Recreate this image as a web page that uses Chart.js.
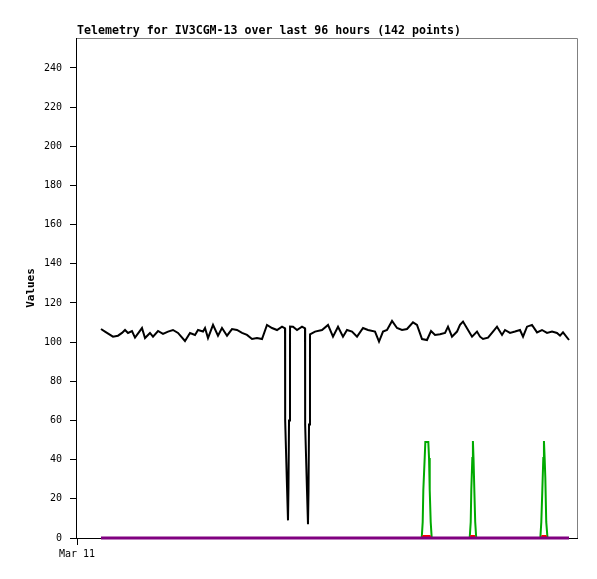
<!DOCTYPE html>
<html>
<head>
<meta charset="utf-8">
<script src="https://cdn.jsdelivr.net/npm/chart.js@4"></script>
<style>
  html, body { margin: 0; padding: 0; background: #fff; }
</style>
</head>
<body>
<canvas id="myChart" width="597" height="579"></canvas>
<script>
// hours since Mar 11 00:00
const chartTitle = 'Telemetry for IV3CGM-13 over last 96 hours (142 points)';
const axisEnd = 102.56;
const dayLabel = 'Mar 11';

// channel 1 (black)
const ch1Hours = [4.92, 5.74, 7.38, 8.41, 9.23, 9.85, 10.46, 11.28, 11.90, 13.33, 13.95, 14.97, 15.59,
  16.62, 17.64, 18.67, 19.69, 20.72, 22.15, 23.18, 24.21, 24.82, 25.85, 26.26, 26.87, 27.90, 28.92,
  29.74, 30.77, 31.79, 32.82, 33.85, 34.87, 35.90, 36.92, 37.95, 38.97, 40.00, 41.03, 42.05,
  42.67, 42.68, 42.72, 43.08, 43.28, 43.38, 43.49, 43.69, 43.70,
  44.31, 45.13, 46.15,
  46.77, 46.78, 46.82, 47.18, 47.38, 47.49, 47.59, 47.79, 47.80,
  48.82, 50.26, 51.49, 52.51, 53.54, 54.56, 55.38, 56.41, 57.44, 58.67, 59.69, 61.13, 61.95, 62.77,
  63.59, 64.62, 65.64, 66.67, 67.69, 68.92, 69.74, 70.77, 71.79, 72.62, 73.44, 74.46, 75.49, 76.10,
  76.92, 77.95, 78.56, 79.18, 80.21, 81.03, 82.05, 82.67, 83.28, 84.31, 85.33, 86.15, 87.18, 87.79,
  88.82, 89.85, 90.87, 91.49, 92.31, 93.33, 94.36, 95.38, 96.41, 97.44, 98.46, 99.08, 99.69, 100.92];
const ch1Values = [106.7, 105.4, 102.8, 103.3, 104.7, 106.2, 104.7, 105.7, 102.3, 107.2, 102.1, 104.7, 102.8,
  105.7, 104.2, 105.4, 106.2, 104.7, 100.6, 104.7, 103.7, 106.2, 105.4, 107.2, 102.1, 108.8, 103.3,
  107.2, 103.3, 106.7, 106.2, 104.7, 103.7, 101.6, 102.1, 101.6, 108.8, 107.2, 106.2, 107.9,
  107, 92, 60, 26, 9, 26, 60, 92, 108,
  107.9, 106.2, 107.9,
  107, 92, 58, 24, 7, 24, 58, 92, 104,
  105.4, 106.2, 108.8, 102.8, 107.9, 102.8, 106.2, 105.4, 102.8, 107.2, 106.2, 105.4, 100.3, 105.4,
  106.2, 110.8, 107.2, 106.2, 106.7, 110.1, 108.8, 101.6, 101.1, 105.7, 103.7, 104.0, 104.7, 107.9,
  102.8, 105.4, 108.8, 110.5, 106.2, 102.8, 105.4, 102.8, 101.6, 102.3, 105.4, 107.9, 103.7, 106.2,
  104.7, 105.4, 106.2, 102.8, 107.9, 108.8, 105.0, 106.2, 104.7, 105.4, 104.7, 103.3, 105.0, 101.1];

// channel 2 (green)
const ch2Hours = [4.92,
  70.71, 70.91, 71.04, 71.32, 71.45, 72.06, 72.21, 72.35, 72.55, 72.76,
  80.55, 80.76, 80.88, 81.09, 81.21, 81.33, 81.50, 81.68, 81.89,
  95.04, 95.24, 95.45, 95.65, 95.78, 95.92, 96.06, 96.25, 96.51,
  100.92];
const ch2Values = [0,
  0, 8.2, 24.5, 40.9, 49, 49, 40.9, 24.5, 8.2, 0,
  0, 8.2, 24.5, 40.9, 49.5, 40.9, 24.5, 8.2, 0,
  0, 8.2, 24.5, 40.9, 49.5, 40.9, 31, 8.2, 0,
  0];

// channel 3 (red)
const ch3Hours = [4.92, 70.91, 71.04, 72.35, 72.47, 80.82, 80.88, 81.44, 81.50, 95.33, 95.45, 96.15, 96.27, 100.92];
const ch3Values = [0, 0, 1, 1, 0, 0, 1, 1, 0, 0, 1, 1, 0, 0];

// channel 4 (purple)
const ch4Hours = [4.92, 100.92];
const ch4Values = [0, 0];

const MONO = '"DejaVu Sans Mono", monospace';

function pts(hours, values) {
  return hours.map((h, i) => ({ x: h, y: values[i] }));
}

const titlePlugin = {
  id: 'plotTitle',
  afterDraw(chart) {
    const { ctx, chartArea } = chart;
    ctx.save();
    ctx.font = 'bold 11.6px ' + MONO;
    ctx.fillStyle = '#000';
    ctx.textBaseline = 'middle';
    ctx.fillText(chartTitle, chartArea.left, 31);
    ctx.restore();
  }
};

// plot box: grey top/right, black left/bottom axes
const framePlugin = {
  id: 'frame',
  beforeDatasetsDraw(chart) {
    const { ctx, chartArea: a } = chart;
    ctx.save();
    ctx.lineWidth = 1;
    ctx.strokeStyle = '#808080';
    ctx.beginPath();
    ctx.moveTo(a.left, a.top + 0.5);
    ctx.lineTo(a.right + 0.5, a.top + 0.5);
    ctx.lineTo(a.right + 0.5, a.bottom);
    ctx.stroke();
    ctx.strokeStyle = '#000';
    ctx.beginPath();
    ctx.moveTo(a.left - 0.5, a.top);
    ctx.lineTo(a.left - 0.5, a.bottom + 0.5);
    ctx.lineTo(a.right + 1, a.bottom + 0.5);
    ctx.stroke();
    ctx.restore();
  }
};

const line = (data, color, width, order) => ({
  data: data,
  borderColor: color,
  borderWidth: width,
  pointRadius: 0,
  tension: 0,
  fill: false,
  clip: 4,
  order: order
});

const ctx = document.getElementById('myChart').getContext('2d');
new Chart(ctx, {
  type: 'line',
  data: {
    datasets: [
      line(pts(ch4Hours, ch4Values), '#800080', 3, 0),
      line(pts(ch3Hours, ch3Values), '#ff0000', 2, 1),
      line(pts(ch2Hours, ch2Values), '#00aa00', 2, 2),
      line(pts(ch1Hours, ch1Values), '#000000', 2, 3)
    ]
  },
  options: {
    responsive: false,
    animation: false,
    layout: { padding: { top: 38, right: 20, bottom: 0, left: 0 } },
    plugins: {
      legend: { display: false },
      tooltip: { enabled: false },
      title: { display: false }
    },
    scales: {
      x: {
        type: 'linear',
        min: 0,
        max: axisEnd,
        afterBuildTicks: s => { s.ticks = [{ value: 0 }]; },
        afterFit: s => { s.height = 41; },
        ticks: {
          callback: () => dayLabel,
          font: { family: MONO, size: 10 },
          color: '#000',
          padding: 3,
          maxRotation: 0,
          autoSkip: false
        },
        grid: { drawOnChartArea: false, drawTicks: true, tickLength: 7, color: '#000' },
        border: { display: false }
      },
      y: {
        min: 0,
        max: 255.3,
        afterFit: s => { s.width = 77; },
        ticks: {
          stepSize: 20,
          includeBounds: false,
          font: { family: MONO, size: 10 },
          color: '#000',
          padding: 8
        },
        grid: { drawOnChartArea: false, drawTicks: true, tickLength: 7, color: '#000' },
        border: { display: false },
        title: {
          display: true,
          text: 'Values',
          color: '#000',
          font: { family: MONO, size: 11, weight: 'bold' },
          padding: { top: 25, bottom: 0 }
        }
      }
    }
  },
  plugins: [titlePlugin, framePlugin]
});
</script>
</body>
</html>
